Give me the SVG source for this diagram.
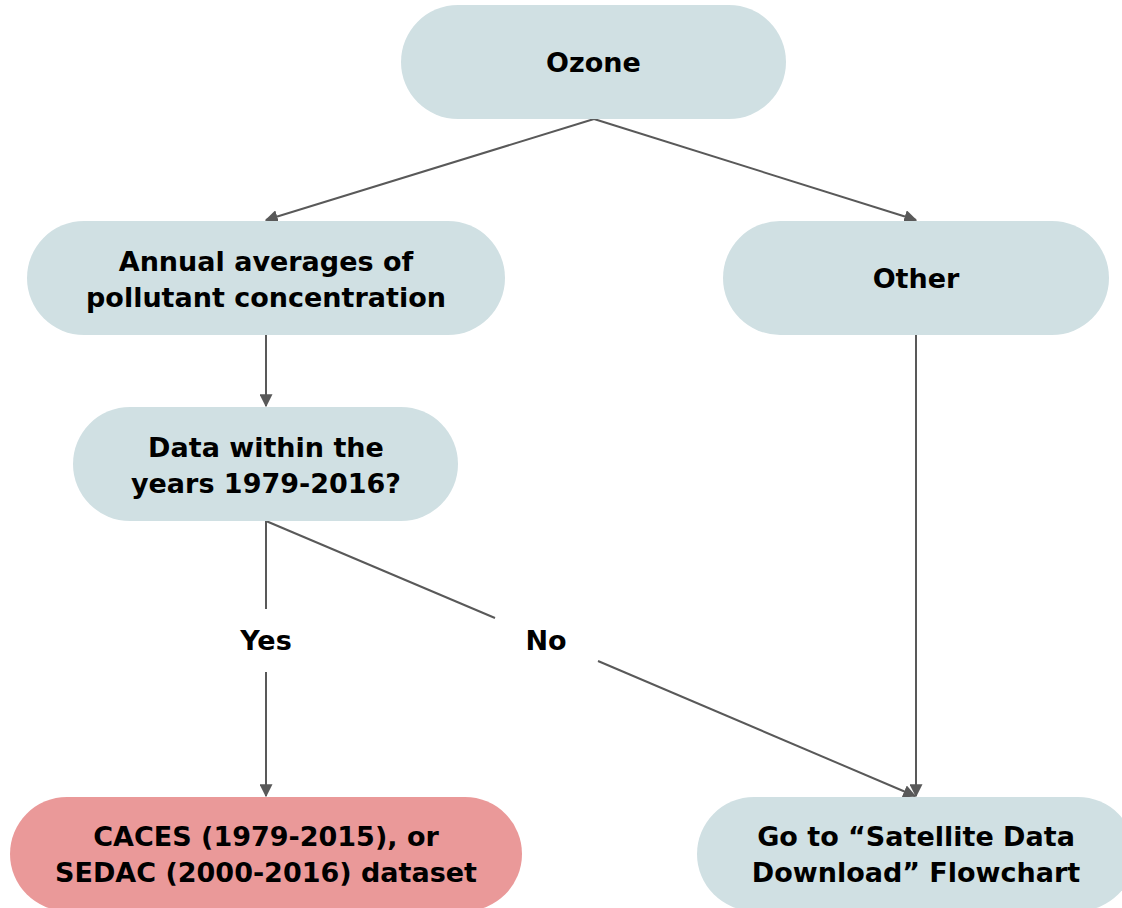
<svg xmlns="http://www.w3.org/2000/svg" width="1122" height="908" viewBox="0 0 1122 908">
  <style>
    .node { fill: #d0e0e3; }
    .node.result { fill: #ea9999; }
    .label { font-family: "DejaVu Sans", "Liberation Sans", sans-serif; font-weight: 700; font-size: 27px; fill: #000; text-anchor: middle; }
    .edge { stroke: #595959; stroke-width: 2; fill: none; }
    .arrow { marker-end: url(#head); }
  </style>
  <defs>
    <marker id="head" viewBox="0 0 10 10" refX="9" refY="5" markerWidth="6.5" markerHeight="6.5" markerUnits="strokeWidth" orient="auto">
      <path d="M0,0 L10,5 L0,10 z" fill="#595959"/>
    </marker>
  </defs>
  <rect width="1122" height="908" fill="#ffffff"/>

  <g id="connectors">
    <line class="edge arrow" x1="594" y1="119" x2="266" y2="220"/>
    <line class="edge arrow" x1="594" y1="119" x2="916" y2="220"/>
    <line class="edge arrow" x1="266" y1="335" x2="266" y2="406"/>
    <line class="edge" x1="266" y1="521" x2="266" y2="609"/>
    <line class="edge arrow" x1="266" y1="672" x2="266" y2="796"/>
    <line class="edge" x1="266" y1="521" x2="495" y2="618"/>
    <line class="edge arrow" x1="598" y1="661" x2="915" y2="796"/>
    <line class="edge arrow" x1="916" y1="335" x2="916" y2="796"/>
    <text class="label" x="266" y="650">Yes</text>
    <text class="label" x="546" y="650">No</text>
  </g>

  <g id="ozone">
    <rect class="node" x="401" y="5" width="385" height="114" rx="57"/>
    <text class="label" x="593.5" y="72">Ozone</text>
  </g>

  <g id="annual-averages">
    <rect class="node" x="27" y="221" width="478" height="114" rx="57"/>
    <text class="label" x="266" y="271">Annual averages of</text>
    <text class="label" x="266" y="307">pollutant concentration</text>
  </g>

  <g id="other">
    <rect class="node" x="723" y="221" width="386" height="114" rx="57"/>
    <text class="label" x="916" y="288">Other</text>
  </g>

  <g id="data-years">
    <rect class="node" x="73" y="407" width="385" height="114" rx="57"/>
    <text class="label" x="266" y="457">Data within the</text>
    <text class="label" x="266" y="493">years 1979-2016?</text>
  </g>

  <g id="caces-sedac">
    <rect class="node result" x="10" y="797" width="512" height="114" rx="57"/>
    <text class="label" x="266" y="846">CACES (1979-2015), or</text>
    <text class="label" x="266" y="882">SEDAC (2000-2016) dataset</text>
  </g>

  <g id="satellite-download">
    <rect class="node" x="697" y="797" width="438" height="114" rx="57"/>
    <text class="label" x="916" y="846">Go to “Satellite Data</text>
    <text class="label" x="916" y="882">Download” Flowchart</text>
  </g>
</svg>
